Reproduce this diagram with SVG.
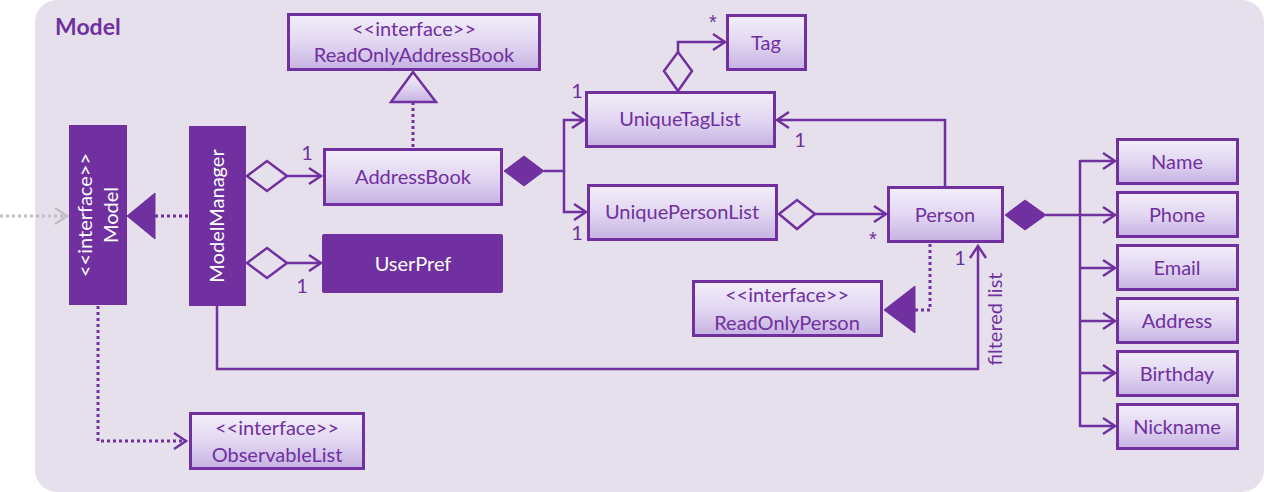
<svg xmlns="http://www.w3.org/2000/svg" width="1264" height="492" viewBox="0 0 1264 492">
<style>
.box{fill:url(#g);stroke:#7030A0;stroke-width:3}
.solid{fill:#7030A0;stroke:#7030A0;stroke-width:1}
.t{font-family:Lato,"Liberation Sans",sans-serif;font-size:20px;fill:#7030A0;text-anchor:middle}
.w{fill:#FFFFFF}
.m{font-family:Lato,"Liberation Sans",sans-serif;font-size:20px;fill:#7030A0;text-anchor:middle}
.s{font-family:"Liberation Sans",sans-serif;font-size:20px;fill:#7030A0;text-anchor:middle}
.ln{fill:none;stroke:#7030A0;stroke-width:2.5}
.dot{fill:none;stroke:#7030A0;stroke-width:3;stroke-dasharray:3 3}
.arr{marker-end:url(#oa)}
.hd{fill:#E6E0EC;stroke:#7030A0;stroke-width:2.5}
.fd{fill:#7030A0;stroke:#7030A0;stroke-width:1}
</style>
<defs>
<linearGradient id="g" x1="0" y1="0" x2="0" y2="1">
<stop offset="0" stop-color="#F3EEFA"/>
<stop offset="0.5" stop-color="#E2D7F2"/>
<stop offset="1" stop-color="#C6B2E2"/>
</linearGradient>
<marker id="oa" markerUnits="userSpaceOnUse" markerWidth="20" markerHeight="20" refX="15" refY="10" orient="auto">
<path d="M3,2 L15,10 L3,18" fill="none" stroke="#7030A0" stroke-width="2.5"/>
</marker>
<marker id="ga" markerUnits="userSpaceOnUse" markerWidth="20" markerHeight="20" refX="15" refY="10" orient="auto">
<path d="M3,2 L15,10 L3,18" fill="none" stroke="#C0C0C0" stroke-width="2.5"/>
</marker>
</defs>
<rect id="bg" x="35" y="0" width="1229" height="492" rx="22" fill="#E6E0EC"/>
<text x="55" y="35" font-family="Lato,'Liberation Sans',sans-serif" font-size="23" font-weight="bold" fill="#7030A0">Model</text>

<g id="connectors">
<line x1="0" y1="216" x2="67" y2="216" stroke="#C0C0C0" stroke-width="3" stroke-dasharray="3 3" marker-end="url(#ga)"/>
<line class="dot" x1="155" y1="216" x2="189" y2="216"/>
<polygon class="solid" points="127,216 155,193 155,239"/>
<path class="dot" d="M98,306 V441 H186" marker-end="url(#oa)"/>
<polygon class="hd" points="247,176 267,161 287,176 267,191"/>
<line class="ln arr" x1="287" y1="176" x2="321" y2="176"/>
<polygon class="hd" points="247,263 267,248 287,263 267,278"/>
<line class="ln arr" x1="287" y1="263" x2="321" y2="263"/>
<line class="dot" x1="413" y1="147" x2="413" y2="102"/>
<polygon points="413,72 391,102 436,102" fill="url(#g)" stroke="#7030A0" stroke-width="2.5"/>
<polygon class="fd" points="504,171 524,156 544,171 524,186"/>
<path class="ln arr" d="M544,171 H564 V120 H584"/>
<path class="ln arr" d="M564,171 V212 H586"/>
<polygon class="hd" points="678,91 692,71 678,52 664,71"/>
<path class="ln arr" d="M678,52 V42 H725"/>
<path class="ln arr" d="M945,186 V120 H777"/>
<polygon class="hd" points="779,214 797,200 815,214 797,229"/>
<line class="ln arr" x1="815" y1="214" x2="886" y2="214"/>
<path class="dot" d="M930,244 V310 H915"/>
<polygon class="solid" points="884,310 915,286 915,333"/>
<path class="ln arr" d="M217,306 V369 H978 V246"/>
<polygon class="fd" points="1005,215 1025,200 1046,215 1025,230"/>
<line class="ln" x1="1046" y1="215" x2="1080" y2="215"/>
<line class="ln" x1="1080" y1="160" x2="1080" y2="427"/>
<line class="ln arr" x1="1080" y1="161" x2="1115" y2="161"/>
<line class="ln arr" x1="1080" y1="215" x2="1115" y2="215"/>
<line class="ln arr" x1="1080" y1="268" x2="1115" y2="268"/>
<line class="ln arr" x1="1080" y1="321" x2="1115" y2="321"/>
<line class="ln arr" x1="1080" y1="373" x2="1115" y2="373"/>
<line class="ln arr" x1="1080" y1="426" x2="1115" y2="426"/>
<text class="m" x="307" y="160">1</text>
<text class="m" x="302" y="293">1</text>
<text class="m" x="577" y="98">1</text>
<text class="m" x="577" y="240">1</text>
<text class="s" x="713" y="29">*</text>
<text class="m" x="800" y="147">1</text>
<text class="s" x="873" y="246">*</text>
<text class="m" x="960" y="265">1</text>
<text class="m" transform="translate(1002 319) rotate(-90)">filtered list</text>
</g>

<g id="model">
<rect x="69" y="125" width="58" height="180" fill="#7030A0"/>
<text class="t w" transform="translate(92 215) rotate(-90)">&lt;&lt;interface&gt;&gt;</text>
<text class="t w" transform="translate(118 215) rotate(-90)">Model</text>
</g>
<g id="modelmanager">
<rect x="189" y="126" width="57" height="180" fill="#7030A0"/>
<text class="t w" transform="translate(224 216) rotate(-90)">ModelManager</text>
</g>
<g id="readonlyaddressbook">
<rect class="box" x="288.5" y="14.5" width="251" height="55"/>
<text class="t" x="414" y="36">&lt;&lt;interface&gt;&gt;</text>
<text class="t" x="414" y="62">ReadOnlyAddressBook</text>
</g>
<g id="addressbook">
<rect class="box" x="324.5" y="149.5" width="177" height="55"/>
<text class="t" x="413" y="184">AddressBook</text>
</g>
<g id="userpref">
<rect x="322" y="234" width="181" height="59" rx="2" fill="#7030A0"/>
<text class="t w" x="413" y="271">UserPref</text>
</g>
<g id="tag">
<rect class="box" x="727.5" y="15.5" width="78" height="54"/>
<text class="t" x="766" y="50">Tag</text>
</g>
<g id="uniquetaglist">
<rect class="box" x="586.5" y="92.5" width="188" height="54"/>
<text class="t" x="680" y="126">UniqueTagList</text>
</g>
<g id="uniquepersonlist">
<rect class="box" x="588.5" y="185.5" width="188" height="54"/>
<text class="t" x="682" y="219">UniquePersonList</text>
</g>
<g id="person">
<rect class="box" x="888.5" y="187.5" width="114" height="54"/>
<text class="t" x="945" y="222">Person</text>
</g>
<g id="readonlyperson">
<rect class="box" x="693.5" y="281.5" width="188" height="54"/>
<text class="t" x="787" y="302">&lt;&lt;interface&gt;&gt;</text>
<text class="t" x="787" y="330">ReadOnlyPerson</text>
</g>
<g id="observablelist">
<rect class="box" x="190.5" y="413.5" width="173" height="55"/>
<text class="t" x="277" y="435">&lt;&lt;interface&gt;&gt;</text>
<text class="t" x="277" y="462">ObservableList</text>
</g>
<g id="name"><rect class="box" x="1117.5" y="139.5" width="120" height="44"/><text class="t" x="1177" y="169">Name</text></g>
<g id="phone"><rect class="box" x="1117.5" y="192.5" width="120" height="44"/><text class="t" x="1177" y="222">Phone</text></g>
<g id="email"><rect class="box" x="1117.5" y="245.5" width="120" height="44"/><text class="t" x="1177" y="275">Email</text></g>
<g id="address"><rect class="box" x="1117.5" y="298.5" width="120" height="44"/><text class="t" x="1177" y="328">Address</text></g>
<g id="birthday"><rect class="box" x="1117.5" y="351.5" width="120" height="44"/><text class="t" x="1177" y="381">Birthday</text></g>
<g id="nickname"><rect class="box" x="1117.5" y="404.5" width="120" height="44"/><text class="t" x="1177" y="434">Nickname</text></g>
</svg>
